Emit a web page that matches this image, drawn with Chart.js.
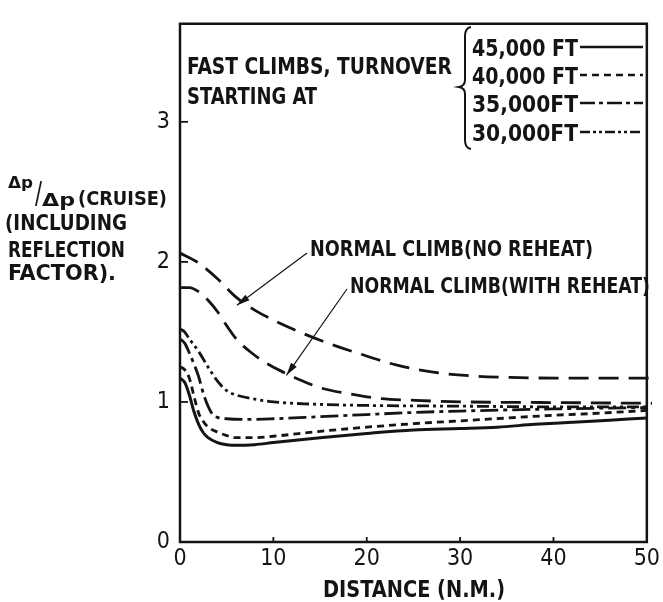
<!DOCTYPE html>
<html><head><meta charset="utf-8">
<script src="https://cdn.jsdelivr.net/npm/chart.js@4"></script>
<style>html,body{margin:0;padding:0;background:#fff}.layer{position:absolute;left:0;top:0;width:663px;height:602px}#top{pointer-events:none}</style>
</head><body><div class="layer" id="base"><canvas id="c"></canvas></div><div class="layer" id="top"><canvas id="c2"></canvas></div>
<script>
// ---- data ----
const xTicks = [0, 10, 20, 30, 40, 50];
const yTicks = [0, 1, 2, 3];

const distNoReheat = [0, 2, 4, 6, 8, 10, 12, 15, 19, 23, 27, 31, 35, 40, 45, 50];
const valNoReheat  = [2.01, 1.94, 1.83, 1.70, 1.61, 1.54, 1.48, 1.40, 1.31, 1.23, 1.18, 1.155, 1.145, 1.14, 1.14, 1.14];

const distReheat = [0, 1, 2, 3, 4, 5, 6, 7.5, 9, 11, 13, 15, 18, 21, 25, 30, 40, 50];
const valReheat  = [1.77, 1.77, 1.74, 1.68, 1.60, 1.50, 1.41, 1.32, 1.25, 1.18, 1.12, 1.07, 1.03, 1.00, 0.985, 0.975, 0.97, 0.965];

const dist30k = [0, 0.5, 1, 2, 3, 4, 5, 6, 8, 10, 14, 20, 30, 40, 50];
const val30k  = [1.52, 1.50, 1.45, 1.36, 1.25, 1.15, 1.08, 1.05, 1.02, 1.00, 0.985, 0.975, 0.97, 0.965, 0.965];

const dist35k = [0, 0.5, 1, 1.5, 2, 2.5, 3, 3.5, 4, 5, 7, 10, 15, 20, 25, 30, 40, 50];
const val35k  = [1.45, 1.42, 1.35, 1.27, 1.18, 1.06, 0.97, 0.91, 0.89, 0.88, 0.875, 0.88, 0.895, 0.91, 0.925, 0.935, 0.95, 0.96];

const dist40k = [0, 0.5, 1, 1.5, 2, 2.5, 3, 4, 5, 6, 8, 10, 15, 20, 25, 30, 35, 40, 45, 50];
const val40k  = [1.25, 1.23, 1.17, 1.04, 0.92, 0.86, 0.82, 0.785, 0.76, 0.745, 0.745, 0.755, 0.79, 0.82, 0.845, 0.865, 0.885, 0.905, 0.92, 0.94];

const dist45k = [0, 0.5, 1, 1.5, 2, 2.5, 3, 4, 5, 6, 8, 10, 15, 20, 25, 30, 34, 38, 42, 46, 50];
const val45k  = [1.17, 1.14, 1.05, 0.93, 0.84, 0.78, 0.745, 0.71, 0.695, 0.69, 0.695, 0.71, 0.745, 0.775, 0.80, 0.81, 0.82, 0.84, 0.855, 0.87, 0.885];

const legendLabels = ['45,000 FT', '40,000 FT', '35,000FT', '30,000FT'];

// ---- styles ----
const INK = '#141414';
const FONT = "'DejaVu Sans Condensed', 'DejaVu Sans', sans-serif";

function pts(xs, ys) { return xs.map((x, i) => ({ x: x, y: ys[i] })); }
function ds(xs, ys, dash, w) {
  return { data: pts(xs, ys), borderColor: INK, borderWidth: w, borderDash: dash,
           pointRadius: 0, cubicInterpolationMode: 'monotone' };
}

function fitText(ctx, text, x, yCenter, capH, width, weight) {
  const size = capH / 0.73;
  ctx.save();
  ctx.font = (weight || 'bold') + ' ' + size + 'px ' + FONT;
  ctx.textBaseline = 'alphabetic';
  ctx.textAlign = 'left';
  const w = ctx.measureText(text).width;
  ctx.translate(x, yCenter + capH / 2);
  ctx.scale(width / w, 1);
  ctx.fillStyle = INK;
  ctx.fillText(text, 0, 0);
  ctx.restore();
}

function arrow(ctx, x0, y0, x1, y1) {
  ctx.save();
  ctx.strokeStyle = INK; ctx.fillStyle = INK; ctx.lineWidth = 1.2; ctx.setLineDash([]);
  ctx.beginPath(); ctx.moveTo(x0, y0); ctx.lineTo(x1, y1); ctx.stroke();
  const a = Math.atan2(y1 - y0, x1 - x0), L = 13, H = 3.5;
  ctx.beginPath();
  ctx.moveTo(x1, y1);
  ctx.lineTo(x1 - L * Math.cos(a) + H * Math.sin(a), y1 - L * Math.sin(a) - H * Math.cos(a));
  ctx.lineTo(x1 - L * Math.cos(a) - H * Math.sin(a), y1 - L * Math.sin(a) + H * Math.cos(a));
  ctx.closePath(); ctx.fill();
  ctx.restore();
}

const decor = {
  id: 'decor',
  beforeDatasetsDraw(chart) {
    const ctx = chart.ctx, a = chart.chartArea;
    const xs = chart.scales.x, ys = chart.scales.y;
    ctx.save();
    ctx.strokeStyle = INK; ctx.lineWidth = 2.5; ctx.setLineDash([]);
    ctx.beginPath();
    ctx.rect(a.left, a.top, a.right - a.left, a.bottom - a.top);
    ctx.stroke();
    ctx.lineWidth = 1.8;
    yTicks.slice(1).forEach(v => {
      const py = ys.getPixelForValue(v);
      ctx.beginPath(); ctx.moveTo(a.left, py); ctx.lineTo(a.left + 8, py); ctx.stroke();
    });
    xTicks.slice(1, -1).forEach(v => {
      const px = xs.getPixelForValue(v);
      ctx.beginPath(); ctx.moveTo(px, a.bottom); ctx.lineTo(px, a.bottom - 5); ctx.stroke();
    });

    // left axis label
    fitText(ctx, 'Δp', 8, 182, 12, 25);
    fitText(ctx, '/', 35, 192, 22, 7, 'normal');
    fitText(ctx, 'Δp', 42, 199, 13, 33);
    fitText(ctx, '(CRUISE)', 78, 198, 14, 89);
    fitText(ctx, '(INCLUDING', 5, 222, 16, 122);
    fitText(ctx, 'REFLECTION', 8, 249, 16, 117);
    fitText(ctx, 'FACTOR).', 8, 272, 16, 108);

    fitText(ctx, 'DISTANCE (N.M.)', 323, 588, 17, 182);

    fitText(ctx, 'FAST CLIMBS, TURNOVER', 187, 65, 17, 265);
    fitText(ctx, 'STARTING AT', 187, 95, 17, 130);
    ctx.lineWidth = 2; ctx.setLineDash([]);
    ctx.beginPath();
    ctx.moveTo(471, 27);
    ctx.quadraticCurveTo(465, 28, 465, 36);
    ctx.lineTo(465, 80);
    ctx.quadraticCurveTo(465, 86, 459, 87);
    ctx.quadraticCurveTo(465, 88, 465, 94);
    ctx.lineTo(465, 140);
    ctx.quadraticCurveTo(465, 148, 471, 149);
    ctx.stroke();
    const legY = [47, 75, 103, 132];
    const legDash = [[], [7, 5], [15, 4, 4, 4], [10, 3, 3, 3, 3, 3]];
    legendLabels.forEach((t, i) => {
      fitText(ctx, t, 472, legY[i], 17, 106);
      ctx.save();
      ctx.lineWidth = 2.6; ctx.setLineDash(legDash[i]);
      ctx.beginPath(); ctx.moveTo(580, legY[i]); ctx.lineTo(643, legY[i]); ctx.stroke();
      ctx.restore();
    });

    fitText(ctx, 'NORMAL CLIMB(NO REHEAT)', 310, 248, 15, 283);
    fitText(ctx, 'NORMAL CLIMB(WITH REHEAT)', 350, 285, 15, 300);
    arrow(ctx, 307, 253, xs.getPixelForValue(6.1), ys.getPixelForValue(1.69));
    arrow(ctx, 347, 289, xs.getPixelForValue(11.4), ys.getPixelForValue(1.19));
    ctx.setLineDash([]);
    ctx.beginPath();
    ctx.restore();
  }
};

// base chart: frame, texts and the four fast-climb curves
new Chart(document.getElementById('c'), {
  type: 'line',
  data: {
    datasets: [
      ds(dist30k, val30k, [12, 4, 3, 4, 3, 4], 2.8),
      ds(dist35k, val35k, [18, 5, 4, 5], 2.8),
      ds(dist40k, val40k, [7, 5], 2.8),
      ds(dist45k, val45k, [], 3)
    ]
  },
  options: {
    responsive: true, maintainAspectRatio: false, animation: false,
    layout: { padding: { top: 10, right: 11, left: 0, bottom: 0 } },
    plugins: { legend: { display: false }, tooltip: { enabled: false } },
    scales: {
      x: {
        type: 'linear', min: 0, max: 50,
        afterBuildTicks: s => { s.ticks = xTicks.map(v => ({ value: v })); },
        afterFit: s => { s.height = 60; },
        grid: { display: false, drawTicks: false },
        border: { display: false },
        ticks: { color: INK, padding: 3, maxRotation: 0, autoSkip: false,
                 font: { family: FONT, size: 23, weight: 'normal' } }
      },
      y: {
        type: 'linear', min: 0, max: 3.7,
        afterBuildTicks: s => { s.ticks = yTicks.map(v => ({ value: v })); },
        afterFit: s => { s.width = 180; },
        grid: { display: false, drawTicks: false },
        border: { display: false },
        ticks: { color: INK, padding: 10, autoSkip: false,
                 font: { family: FONT, size: 23, weight: 'normal' } }
      }
    }
  },
  plugins: [decor]
});

// overlay chart with identical plot area: the two normal-climb long-dash curves
new Chart(document.getElementById('c2'), {
  type: 'line',
  data: {
    datasets: [
      ds(distNoReheat, valNoReheat, [20, 10], 2.8),
      ds(distReheat, valReheat, [20, 10], 2.8)
    ]
  },
  options: {
    responsive: true, maintainAspectRatio: false, animation: false,
    layout: { padding: { top: 10, right: 11, left: 0, bottom: 0 } },
    plugins: { legend: { display: false }, tooltip: { enabled: false } },
    scales: {
      x: { type: 'linear', min: 0, max: 50, grid: { display: false, drawTicks: false }, border: { display: false },
           ticks: { color: 'rgba(0,0,0,0)' }, afterFit: s => { s.height = 60; } },
      y: { min: 0, max: 3.7, grid: { display: false, drawTicks: false }, border: { display: false },
           ticks: { color: 'rgba(0,0,0,0)' }, afterFit: s => { s.width = 180; } }
    }
  }
});
</script>
</body></html>
